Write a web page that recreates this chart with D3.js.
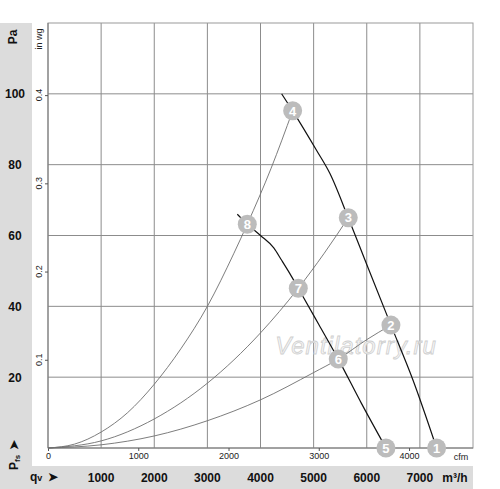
<!DOCTYPE html>
<html>
<head>
<meta charset="utf-8">
<script src="https://cdn.jsdelivr.net/npm/d3@7"></script>
<style>
  body { margin: 0; background: #fff; }
  svg { font-family: "Liberation Sans", Arial, sans-serif; }
</style>
</head>
<body>
<div id="chart"></div>
<script>
// bottom axis labels (m³/h) and left axis labels (Pa)
const qvTicks = [1000, 2000, 3000, 4000, 5000, 6000, 7000];
const paTicks = [20, 40, 60, 80, 100];
const cfmTicks = [0, 1000, 2000, 3000, 4000];
const inwgTicks = [0.1, 0.2, 0.3, 0.4];
const gridQ = [1000, 2000, 3000, 4000, 5000, 6000, 7000];
const gridP = [20, 40, 60, 80, 100];

// fan curves [m³/h, Pa]
const fanHigh = [[4398, 100], [4605, 95.2], [5057, 84], [5307, 77.5], [5652, 65],
  [6000, 51.8], [6455, 34.7], [6875, 19], [7315, 0]];
const fanLow = [[3563, 66], [3751, 63.2], [4000, 60], [4250, 56.5], [4398, 53],
  [4550, 49.3], [4711, 45.1], [5100, 34.8], [5464, 25.1], [5900, 12.6], [6361, 0]];

// system resistance curves [m³/h, Pa]
const sysSteep = [[0, 0], [500, 1.1], [1000, 4.5], [1500, 10], [2000, 18], [2500, 28],
  [3000, 40], [3500, 55], [3751, 63.2], [4200, 79], [4605, 95.2]];
const sysMid = [[0, 0], [1000, 2], [2000, 8.2], [3000, 18.3], [4000, 32.5],
  [4711, 45.1], [5200, 55], [5652, 65]];
const sysLow = [[0, 0], [1000, 0.9], [2000, 3.4], [3000, 7.7], [4000, 13.6],
  [5000, 21.3], [5464, 25.1], [6000, 30.6], [6455, 34.7]];

// numbered operating points
const points = [
  { n: "1", q: 7315, p: 0 }, { n: "2", q: 6455, p: 34.7 },
  { n: "3", q: 5652, p: 65 }, { n: "4", q: 4605, p: 95.2 },
  { n: "5", q: 6361, p: 0 }, { n: "6", q: 5464, p: 25.1 },
  { n: "7", q: 4711, p: 45.1 }, { n: "8", q: 3751, p: 63.2 }
];

const W = 500, H = 489;
const pLeft = 48, pRight = 473, pTop = 23, pBottom = 448;

const x = d3.scaleLinear().domain([0, 8000]).range([pLeft, pRight]);
const y = d3.scaleLinear().domain([0, 120]).range([pBottom, pTop]);
const xCfm = d3.scaleLinear().domain([0, 8000 / 1.699]).range([pLeft, pRight]);
const yInwg = d3.scaleLinear().domain([0, 120 / 249.09]).range([pBottom, pTop]);

const svg = d3.select("#chart").append("svg")
  .attr("width", W)
  .attr("height", H);

// grey label bands
svg.append("rect").attr("x", 0).attr("y", pTop).attr("width", 32).attr("height", H - pTop)
  .attr("fill", "#dcdcdc");
svg.append("rect").attr("x", 0).attr("y", 466).attr("width", pRight).attr("height", H - 466)
  .attr("fill", "#dcdcdc");

// grid
svg.append("g").selectAll("line").data(gridQ).enter().append("line")
  .attr("x1", d => x(d)).attr("x2", d => x(d))
  .attr("y1", pTop).attr("y2", pBottom)
  .attr("stroke", "#8c8c8c").attr("stroke-width", 1);
svg.append("g").selectAll("line").data(gridP).enter().append("line")
  .attr("x1", pLeft).attr("x2", pRight)
  .attr("y1", d => y(d)).attr("y2", d => y(d))
  .attr("stroke", "#8c8c8c").attr("stroke-width", 1);
svg.append("rect").attr("x", pLeft).attr("y", pTop)
  .attr("width", pRight - pLeft).attr("height", pBottom - pTop)
  .attr("fill", "none").attr("stroke", "#9a9a9a").attr("stroke-width", 1);
svg.append("line").attr("x1", pLeft).attr("x2", pRight).attr("y1", pBottom).attr("y2", pBottom)
  .attr("stroke", "#777");
svg.append("line").attr("x1", pLeft).attr("x2", pLeft).attr("y1", pTop).attr("y2", pBottom)
  .attr("stroke", "#777");

// cfm axis
const cfmAxis = svg.append("g").attr("transform", `translate(0,${pBottom})`)
  .call(d3.axisBottom(xCfm).tickValues(cfmTicks).tickSize(3).tickPadding(2).tickFormat(d3.format("d")));
cfmAxis.select(".domain").remove();
cfmAxis.selectAll("line").attr("stroke", "#555");
cfmAxis.selectAll("text").attr("font-size", 9).attr("fill", "#222")
  .attr("font-family", "Liberation Sans, Arial, sans-serif");
svg.append("text").attr("x", 461).attr("y", 460).attr("text-anchor", "middle")
  .attr("font-size", 9).attr("fill", "#222").text("cfm");

// in wg axis
const inAxis = svg.append("g").attr("transform", `translate(${pLeft},0)`)
  .call(d3.axisLeft(yInwg).tickValues(inwgTicks).tickSize(3).tickFormat(d3.format(".1f")));
inAxis.select(".domain").remove();
inAxis.selectAll("line").attr("stroke", "#555");
inAxis.selectAll("text").remove();
svg.append("g").selectAll("text").data(inwgTicks).enter().append("text")
  .attr("transform", d => `translate(42,${yInwg(d)}) rotate(-90)`)
  .attr("text-anchor", "middle").attr("font-size", 9).attr("fill", "#222")
  .text(d => d3.format(".1f")(d));
svg.append("text").attr("transform", "translate(42,39) rotate(-90)")
  .attr("text-anchor", "middle").attr("font-size", 9).attr("fill", "#222").text("in wg");

// Pa labels
svg.append("g").selectAll("text").data(paTicks).enter().append("text")
  .attr("x", 15).attr("y", d => y(d) + 4.5)
  .attr("text-anchor", "middle").attr("font-size", 12).attr("font-weight", "bold")
  .attr("fill", "#111").text(d => d);
svg.append("text").attr("transform", "translate(17,37) rotate(-90)")
  .attr("text-anchor", "middle").attr("font-size", 12).attr("font-weight", "bold")
  .attr("fill", "#111").text("Pa");

// Pfs label
const pfs = svg.append("text").attr("transform", "translate(18,470) rotate(-90)")
  .attr("font-size", 12).attr("font-weight", "bold").attr("fill", "#111");
pfs.append("tspan").text("P");
pfs.append("tspan").attr("font-size", 8).attr("dy", 2).text("fs");
pfs.append("tspan").attr("dy", -2).attr("dx", 5).text("➤");

// qv labels
svg.append("g").selectAll("text").data(qvTicks).enter().append("text")
  .attr("x", d => x(d)).attr("y", 482)
  .attr("text-anchor", "middle").attr("font-size", 12).attr("font-weight", "bold")
  .attr("fill", "#111").text(d => d);
svg.append("text").attr("x", 455).attr("y", 482).attr("text-anchor", "middle")
  .attr("font-size", 12).attr("font-weight", "bold").attr("fill", "#111").text("m³/h");
const qv = svg.append("text").attr("x", 30).attr("y", 481)
  .attr("font-size", 12).attr("font-weight", "bold").attr("fill", "#111");
qv.append("tspan").text("q");
qv.append("tspan").attr("font-size", 9).text("v");
qv.append("tspan").attr("dx", 6).text("➤");

// watermark
svg.append("text").attr("x", 356).attr("y", 354).attr("text-anchor", "middle")
  .attr("font-size", 24).attr("font-style", "italic")
  .attr("fill", "#f6f6f6").attr("stroke", "#cfcfcf").attr("stroke-width", 0.8)
  .attr("letter-spacing", 1).text("Ventilatorry.ru");

// curves
const line = d3.line().x(d => x(d[0])).y(d => y(d[1])).curve(d3.curveMonotoneX);
[sysSteep, sysMid, sysLow].forEach(s => {
  svg.append("path").datum(s).attr("d", line)
    .attr("fill", "none").attr("stroke", "#6e6e6e").attr("stroke-width", 0.9);
});
[fanHigh, fanLow].forEach(s => {
  svg.append("path").datum(s).attr("d", line)
    .attr("fill", "none").attr("stroke", "#111").attr("stroke-width", 1.2);
});

// markers
const mk = svg.append("g").selectAll("g").data(points).enter().append("g")
  .attr("transform", d => `translate(${x(d.q)},${y(d.p)})`);
mk.append("circle").attr("r", 9.5).attr("fill", "#bcbcbc");
mk.append("text").attr("text-anchor", "middle").attr("y", 4.7)
  .attr("font-size", 13).attr("font-weight", "bold").attr("fill", "#fff")
  .text(d => d.n);
</script>
</body>
</html>
